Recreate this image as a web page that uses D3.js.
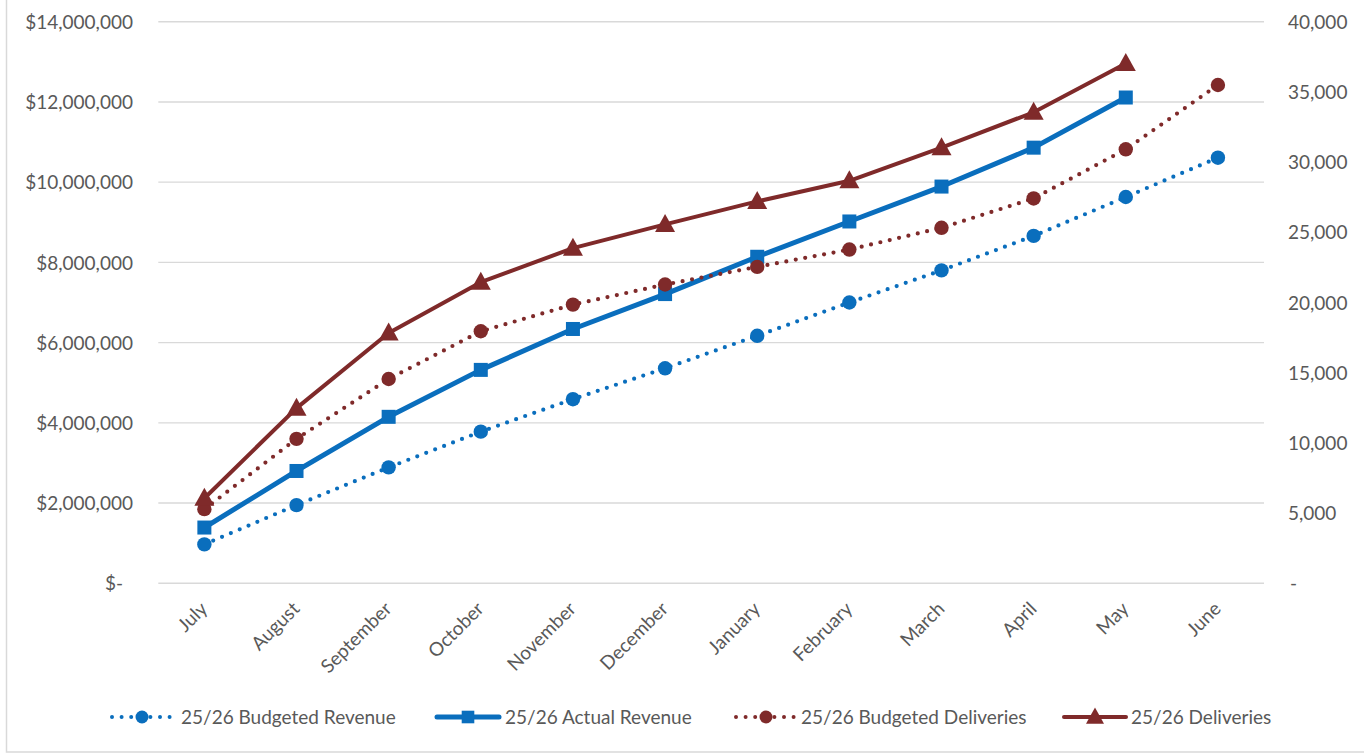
<!DOCTYPE html>
<html>
<head>
<meta charset="utf-8">
<script src="https://cdn.jsdelivr.net/npm/d3@7"></script>
<style>
  html, body { margin: 0; padding: 0; background: #fff; }
  svg { display: block; font-family: Lato, "Open Sans", sans-serif; }
</style>
</head>
<body>
<svg id="chart" width="1364" height="755"></svg>
<script>
// Months of the financial year
const months = ["July", "August", "September", "October", "November", "December",
                "January", "February", "March", "April", "May", "June"];

// Revenue series (left axis, dollars)
const budgetedRevenue = [970000, 1950000, 2890000, 3780000, 4590000, 5360000,
                         6170000, 7000000, 7800000, 8660000, 9630000, 10610000];
const actualRevenue = [1390000, 2800000, 4150000, 5320000, 6340000, 7210000,
                       8140000, 9020000, 9890000, 10860000, 12110000];

// Delivery series (right axis, units)
const budgetedDeliveries = [5280, 10290, 14550, 17950, 19850, 21280,
                            22540, 23770, 25320, 27410, 30910, 35490];
const deliveries = [6060, 12480, 17830, 21450, 23870, 25560,
                    27200, 28670, 31030, 33550, 37020];

// Axis ticks
const revenueTicks = [0, 2000000, 4000000, 6000000, 8000000, 10000000, 12000000, 14000000];
const deliveryTicks = [0, 5000, 10000, 15000, 20000, 25000, 30000, 35000, 40000];

const BLUE = "#0A6EBD";
const RED = "#7F2A2A";
const TEXT = "#595959";
const FONT_SIZE = 19;

const svg = d3.select("#chart");

// outer chart border
svg.append("rect")
  .attr("x", 6.5).attr("y", -10)
  .attr("width", 1400).attr("height", 762)
  .attr("fill", "none").attr("stroke", "#D9D9D9").attr("stroke-width", 1.5);

const plot = { left: 158.3, right: 1264, top: 21.7, bottom: 583.3 };

const x = d3.scalePoint().domain(months).range([plot.left, plot.right]).padding(0.5);
const yL = d3.scaleLinear().domain([0, 14000000]).range([plot.bottom, plot.top]);
const yR = d3.scaleLinear().domain([0, 40000]).range([plot.bottom, plot.top]);

// gridlines
svg.append("g").selectAll("line").data(revenueTicks).join("line")
  .attr("x1", plot.left).attr("x2", plot.right)
  .attr("y1", d => yL(d)).attr("y2", d => yL(d))
  .attr("stroke", "#D9D9D9").attr("stroke-width", 1.4);

// left axis
const fmtMoney = d => d === 0 ? "$-" : "$" + d3.format(",")(d);
const leftAxis = d3.axisLeft(yL).tickValues(revenueTicks).tickFormat(fmtMoney).tickSize(0).tickPadding(0);
const gL = svg.append("g").attr("transform", "translate(133,0)").call(leftAxis);
gL.select(".domain").remove();
gL.selectAll("text").attr("fill", TEXT).attr("font-size", FONT_SIZE).attr("font-family", "Lato")
  .attr("dy", "0.35em")
  .attr("dx", d => d === 0 ? -10 : 0);

// right axis
const fmtUnits = d => d === 0 ? "-" : d3.format(",")(d);
const rightAxis = d3.axisRight(yR).tickValues(deliveryTicks).tickFormat(fmtUnits).tickSize(0).tickPadding(0);
const gR = svg.append("g").attr("transform", "translate(1288,0)").call(rightAxis);
gR.select(".domain").remove();
gR.selectAll("text").attr("fill", TEXT).attr("font-size", FONT_SIZE).attr("font-family", "Lato")
  .attr("dy", "0.35em")
  .attr("dx", d => d === 0 ? 2 : 0);

// category axis, labels rotated 45 degrees
const gX = svg.append("g").attr("transform", `translate(0,${plot.bottom})`)
  .call(d3.axisBottom(x).tickSize(0).tickPadding(0));
gX.select(".domain").remove();
gX.selectAll("text")
  .attr("fill", TEXT).attr("font-size", FONT_SIZE).attr("font-family", "Lato")
  .attr("text-anchor", "end")
  .attr("dy", "0.35em")
  .attr("transform", "translate(-1,22) rotate(-45)");

// series definitions
const series = [
  { name: "25/26 Budgeted Revenue", values: budgetedRevenue, y: yL, color: BLUE,
    width: 4.2, dash: "0 9.6", marker: "circle" },
  { name: "25/26 Actual Revenue", values: actualRevenue, y: yL, color: BLUE,
    width: 5, dash: null, marker: "square" },
  { name: "25/26 Budgeted Deliveries", values: budgetedDeliveries, y: yR, color: RED,
    width: 4.2, dash: "0 9.6", marker: "circle" },
  { name: "25/26 Deliveries", values: deliveries, y: yR, color: RED,
    width: 4, dash: null, marker: "triangle" }
];

function drawMarker(g, type, cx, cy, color, scale = 1) {
  if (type === "circle") {
    g.append("circle").attr("cx", cx).attr("cy", cy).attr("r", 7.2 * scale).attr("fill", color);
  } else if (type === "square") {
    const s = 14 * scale;
    g.append("rect").attr("x", cx - s / 2).attr("y", cy - s / 2)
      .attr("width", s).attr("height", s).attr("fill", color);
  } else {
    const w = 20 * scale, h = 18 * scale;
    g.append("path")
      .attr("d", `M${cx},${cy - h * 0.58} L${cx + w / 2},${cy + h * 0.42} L${cx - w / 2},${cy + h * 0.42} Z`)
      .attr("fill", color);
  }
}

const linesG = svg.append("g");
series.forEach(s => {
  const pts = s.values.map((v, i) => [x(months[i]), s.y(v)]);
  const path = linesG.append("path")
    .attr("d", d3.line()(pts))
    .attr("fill", "none")
    .attr("stroke", s.color)
    .attr("stroke-width", s.width)
    .attr("stroke-linejoin", "round")
    .attr("stroke-linecap", "round");
  if (s.dash) path.attr("stroke-dasharray", s.dash);
  const mg = linesG.append("g");
  pts.forEach(p => drawMarker(mg, s.marker, p[0], p[1], s.color));
});

// legend
const legendItems = [
  { s: series[0], x0: 112, textX: 181 },
  { s: series[1], x0: 437, textX: 505 },
  { s: series[2], x0: 736, textX: 801 },
  { s: series[3], x0: 1064, textX: 1131 }
];
const legY = 717;
const lg = svg.append("g");
legendItems.forEach(it => {
  const s = it.s;
  const len = s.dash ? 60 : 62;
  const line = lg.append("line")
    .attr("x1", it.x0).attr("x2", it.x0 + len)
    .attr("y1", legY).attr("y2", legY)
    .attr("stroke", s.color).attr("stroke-width", s.dash ? 4 : s.width)
    .attr("stroke-linecap", "round");
  if (s.dash) line.attr("stroke-dasharray", "0 9.6");
  drawMarker(lg, s.marker, it.x0 + len / 2, legY, s.color, 0.9);
  lg.append("text")
    .attr("x", it.textX).attr("y", legY).attr("dy", "0.35em")
    .attr("fill", TEXT).attr("font-size", FONT_SIZE).attr("font-family", "Lato")
    .text(s.name);
});
</script>
</body>
</html>
